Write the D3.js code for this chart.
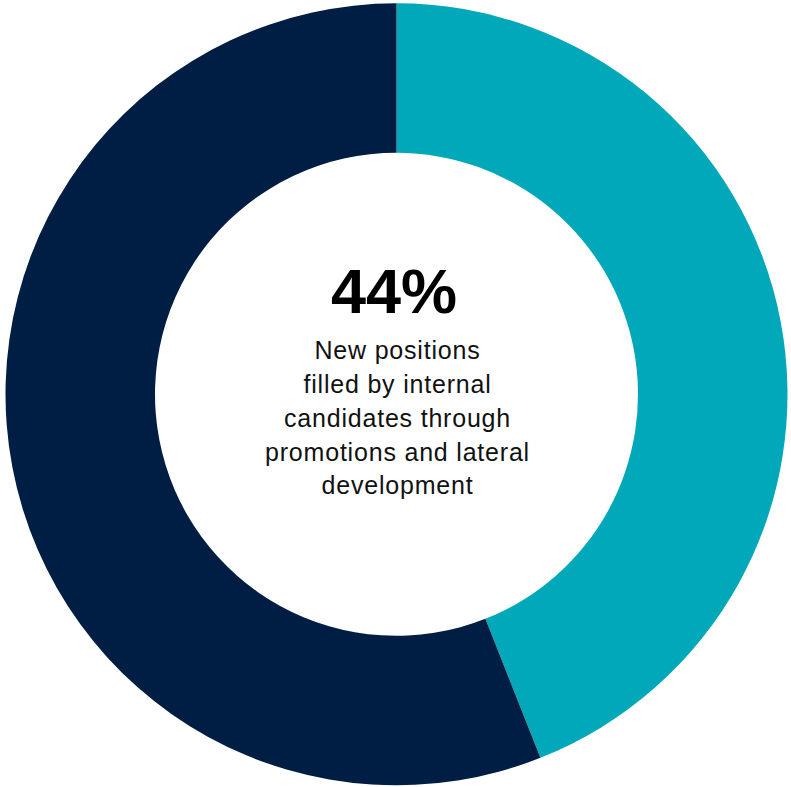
<!DOCTYPE html>
<html>
<head>
<meta charset="utf-8">
<script src="https://cdn.jsdelivr.net/npm/d3@7"></script>
<style>
  html, body { margin: 0; padding: 0; background: #ffffff; }
  svg { display: block; }
</style>
</head>
<body>
<svg id="chart" width="791" height="787"></svg>
<script>
// Share of new positions by source
const categories = ["Internal candidates", "External hires"];
const shares = [44, 56];
const colors = ["#00A8B9", "#001E43"];

// Centre statement
const headline = "44%";
const captionLines = [
  "New positions",
  "filled by internal",
  "candidates through",
  "promotions and lateral",
  "development"
];

const width = 791, height = 787;
const cx = 396.5, cy = 394.3;
const outerR = 391, innerR = 241.5;

const svg = d3.select("#chart");
const g = svg.append("g").attr("transform", `translate(${cx},${cy})`);

const pie = d3.pie().sort(null).value(d => d.value);
const arc = d3.arc().innerRadius(innerR).outerRadius(outerR);

const data = categories.map((c, i) => ({ name: c, value: shares[i] }));
const color = d3.scaleOrdinal().domain(categories).range(colors);

g.selectAll("path.slice")
  .data(pie(data))
  .join("path")
  .attr("class", "slice")
  .attr("d", arc)
  .attr("fill", d => color(d.data.name));

// Headline figure
g.append("text")
  .attr("x", -2.5)
  .attr("y", 313.3 - cy)
  .attr("text-anchor", "middle")
  .attr("font-family", "'Liberation Sans', Arial, Helvetica, sans-serif")
  .attr("font-weight", "bold")
  .attr("font-size", 63)
  .attr("fill", "#000")
  .text(headline);

// Caption below the figure
const lineGap = 33.8;
g.append("text")
  .attr("text-anchor", "middle")
  .attr("font-family", "'Liberation Sans', Arial, Helvetica, sans-serif")
  .attr("font-size", 25)
  .attr("letter-spacing", 0.8)
  .attr("fill", "#111")
  .selectAll("tspan")
  .data(captionLines)
  .join("tspan")
  .attr("x", 1)
  .attr("y", (d, i) => 359.3 - cy + i * lineGap)
  .text(d => d);
</script>
</body>
</html>
